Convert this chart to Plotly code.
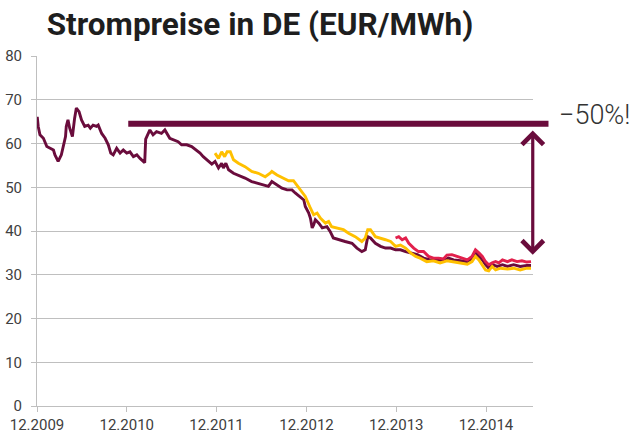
import plotly.graph_objects as go

# ---- data ----
maroon_dates = [
    "2009-12-02","2009-12-06","2009-12-13","2009-12-27","2010-01-10","2010-01-23","2010-02-06","2010-02-12",
    "2010-02-25","2010-03-10","2010-03-19","2010-03-27","2010-03-30","2010-04-06","2010-04-13","2010-04-24",
    "2010-05-03","2010-05-10","2010-05-21","2010-05-31","2010-06-13","2010-06-27","2010-07-06","2010-07-17",
    "2010-07-31","2010-08-07","2010-08-21","2010-09-04","2010-09-17","2010-09-27","2010-10-07","2010-10-21",
    "2010-11-04","2010-11-17","2010-12-01","2010-12-14","2010-12-28","2011-01-11","2011-01-24","2011-02-05",
    "2011-02-12","2011-02-16","2011-03-05","2011-03-18","2011-04-01","2011-04-21","2011-05-05","2011-05-25",
    "2011-06-08","2011-06-28","2011-07-12","2011-08-02","2011-08-22","2011-09-12","2011-09-25","2011-10-08",
    "2011-10-22","2011-10-29","2011-11-12","2011-11-25","2011-12-09","2011-12-22","2011-12-29","2012-01-08",
    "2012-01-19","2012-02-08","2012-02-28","2012-03-26","2012-04-22","2012-05-19","2012-06-09","2012-06-29",
    "2012-07-13","2012-08-03","2012-08-23","2012-09-13","2012-10-03","2012-10-16","2012-11-06","2012-11-20",
    "2012-11-26","2012-12-10","2012-12-17","2012-12-24","2012-12-30","2013-01-06","2013-01-20","2013-02-03",
    "2013-02-22","2013-03-07","2013-03-20","2013-04-10","2013-05-07","2013-06-04","2013-06-24","2013-07-14",
    "2013-07-28","2013-08-07","2013-08-18","2013-09-07","2013-09-28","2013-10-18","2013-11-08","2013-11-28",
    "2013-12-18","2014-01-08","2014-01-28","2014-02-25","2014-03-22","2014-04-18","2014-05-15","2014-06-11",
    "2014-07-01","2014-07-22","2014-08-19","2014-09-16","2014-10-05","2014-10-19","2014-11-02","2014-11-16",
    "2014-11-29","2014-12-12","2014-12-26","2015-01-16","2015-02-06","2015-02-26","2015-03-23","2015-04-19",
    "2015-05-16","2015-06-02",
]
maroon_values = [
    66.1, 63.9, 62.0, 61.2, 59.3, 58.9, 58.5, 57.4,
    55.9, 57.4, 59.7, 61.6, 63.9, 65.4, 63.5, 61.6,
    65.8, 68.1, 67.3, 65.4, 63.9, 64.2, 63.5, 64.2,
    63.9, 64.2, 62.3, 61.2, 59.7, 57.8, 57.4, 58.9,
    57.8, 58.5, 57.8, 58.1, 57.0, 57.4, 56.6, 55.9,
    55.6, 61.0, 63.1, 62.0, 62.7, 62.3, 63.1, 61.2,
    60.8, 60.4, 59.7, 59.7, 59.3, 58.5, 57.8, 57.0,
    56.3, 55.9, 55.3, 55.9, 54.4, 55.5, 54.4, 55.5,
    54.0, 53.2, 52.8, 52.1, 51.3, 50.9, 50.5, 50.2,
    51.3, 50.5, 49.8, 49.4, 49.4, 48.7, 47.8, 47.1,
    45.6, 44.1, 42.9, 40.7, 41.4, 42.6, 41.8, 40.7,
    41.0, 39.9, 38.4, 38.0, 37.6, 37.2, 36.1, 35.3,
    35.7, 38.7, 38.4, 37.2, 36.5, 36.1, 36.1, 35.7,
    35.7, 35.3, 35.0, 34.6, 33.8, 33.4, 33.4, 33.2,
    33.8, 33.4, 33.2, 33.0, 33.8, 35.0, 34.2, 33.4,
    32.3, 31.5, 32.3, 31.9, 32.3, 31.9, 32.3, 31.9,
    32.1, 32.1,
]

yellow_dates = [
    "2011-11-25","2011-12-09","2011-12-22","2012-01-03","2012-01-13","2012-01-26","2012-02-08","2012-02-28",
    "2012-03-26","2012-04-22","2012-05-19","2012-06-16","2012-07-06","2012-07-13","2012-08-03","2012-08-29",
    "2012-09-19","2012-10-09","2012-10-23","2012-11-06","2012-11-26","2012-12-17","2012-12-30","2013-01-13",
    "2013-01-27","2013-02-16","2013-03-01","2013-03-13","2013-04-03","2013-04-30","2013-05-21","2013-06-17",
    "2013-07-14","2013-07-28","2013-08-07","2013-08-18","2013-09-07","2013-09-28","2013-10-18","2013-11-08",
    "2013-11-28","2013-12-18","2014-01-08","2014-01-28","2014-02-18","2014-03-08","2014-04-04","2014-05-01",
    "2014-05-28","2014-06-25","2014-07-22","2014-08-19","2014-09-16","2014-10-05","2014-10-19","2014-11-02",
    "2014-11-16","2014-11-29","2014-12-12","2014-12-26","2015-01-09","2015-01-29","2015-02-26","2015-03-23",
    "2015-04-19","2015-05-16","2015-06-02",
]
yellow_values = [
    57.8, 56.6, 58.1, 57.0, 58.1, 58.1, 56.3, 55.5,
    54.7, 53.6, 53.2, 52.4, 53.2, 53.6, 52.8, 52.1,
    51.5, 51.5, 50.5, 49.4, 47.9, 45.2, 43.7, 44.1,
    42.9, 41.8, 42.2, 41.0, 40.7, 40.3, 39.5, 38.7,
    37.6, 38.4, 40.3, 40.3, 38.7, 38.4, 38.0, 37.6,
    36.5, 36.8, 36.1, 35.0, 34.2, 33.8, 33.0, 33.2,
    32.7, 33.2, 32.9, 32.7, 32.4, 33.0, 34.2, 33.4,
    32.3, 31.1, 30.9, 31.9, 31.1, 31.5, 31.3, 31.5,
    31.1, 31.5, 31.5,
]

red_dates = [
    "2013-11-28","2013-12-11","2013-12-25","2014-01-08","2014-01-21","2014-02-10","2014-03-01","2014-03-22",
    "2014-04-11","2014-05-01","2014-05-22","2014-06-11","2014-06-25","2014-07-15","2014-08-05","2014-08-26",
    "2014-09-16","2014-10-05","2014-10-19","2014-11-02","2014-11-16","2014-11-29","2014-12-12","2014-12-26",
    "2015-01-09","2015-01-22","2015-02-06","2015-02-26","2015-03-16","2015-04-06","2015-04-26","2015-05-16",
    "2015-06-02",
]
red_values = [
    38.4, 38.7, 38.0, 38.4, 37.2, 36.1, 35.3, 35.3,
    34.2, 33.8, 33.8, 33.6, 34.5, 34.6, 34.2, 33.8,
    33.4, 34.2, 35.7, 35.0, 34.2, 33.0, 32.3, 32.7,
    33.0, 32.7, 33.4, 33.0, 33.4, 33.0, 33.2, 32.9,
    33.0,
]

tick_dates = ["2009-12-01", "2010-12-01", "2011-12-01", "2012-12-01", "2013-12-01", "2014-12-01"]
tick_labels = ["12.2009", "12.2010", "12.2011", "12.2012", "12.2013", "12.2014"]
y_ticks = [0, 10, 20, 30, 40, 50, 60, 70, 80]
x_range = ["2009-12-01", "2015-06-10"]

level_start = 64.5          # price level marked end 2010
level_end = 34.6            # price level reached in 2015
level_line_from = "2010-12-01"
level_line_to = "2015-08-12"
arrow_date = "2015-06-09"
arrow_top = 63.3

title_text = "Strompreise in DE (EUR/MWh)"
note_text = "\u221250%!"

# ---- styling ----
MAROON = "#6A0C3C"
YELLOW = "#FFC000"
RED = "#E2204C"
GRID = "#BFBFBF"
TICKFONT = dict(family="Roboto", size=15, color="#404040")

fig = go.Figure()
fig.add_trace(go.Scatter(x=maroon_dates, y=maroon_values, mode="lines",
                         line=dict(color=MAROON, width=2.9), showlegend=False))
fig.add_trace(go.Scatter(x=yellow_dates, y=yellow_values, mode="lines",
                         line=dict(color=YELLOW, width=2.9), showlegend=False))
fig.add_trace(go.Scatter(x=red_dates, y=red_values, mode="lines",
                         line=dict(color=RED, width=2.9), showlegend=False))

# thick horizontal reference line
fig.add_annotation(x=level_line_to, y=level_start, ax=level_line_from, ay=level_start,
                   xref="x", yref="y", axref="x", ayref="y", text="",
                   showarrow=True, arrowhead=0, arrowwidth=6, arrowcolor=MAROON,
                   standoff=0, startstandoff=0)
# double-headed arrow
fig.add_annotation(x=arrow_date, y=level_end, ax=arrow_date, ay=arrow_top,
                   xref="x", yref="y", axref="x", ayref="y", text="",
                   showarrow=True, arrowhead=4, startarrowhead=4, arrowside="end+start",
                   arrowsize=1.3, startarrowsize=1.3, arrowwidth=3.2, arrowcolor=MAROON)
# note
fig.add_annotation(x=1.048, y=0.832, xref="paper", yref="paper", xanchor="left", yanchor="middle",
                   text=note_text, showarrow=False,
                   font=dict(family="Roboto", size=27, color="#333333", weight=300))

fig.update_layout(
    width=638, height=439,
    margin=dict(l=37, r=105, t=56, b=33, autoexpand=False),
    paper_bgcolor="white", plot_bgcolor="white",
    title=dict(text=title_text, x=0.4075, y=0.9444, xref="container", yref="container",
               xanchor="center", yanchor="middle", automargin=False,
               font=dict(family="Roboto", size=31.5, color="#1E1E1E", weight=700)),
    showlegend=False,
)
fig.update_xaxes(type="date", range=x_range, automargin=False,
                 tickmode="array", tickvals=tick_dates, ticktext=tick_labels,
                 showgrid=False, showline=True, linecolor=GRID, linewidth=1,
                 ticks="outside", ticklen=5, tickcolor=GRID, tickfont=TICKFONT,
                 zeroline=False)
fig.update_yaxes(range=[0, 80], tickmode="array", tickvals=y_ticks, automargin=False,
                 showgrid=True, gridcolor=GRID, gridwidth=1,
                 showline=True, linecolor=GRID, linewidth=1,
                 ticks="outside", ticklen=5, tickcolor=GRID, tickfont=TICKFONT,
                 ticklabelstandoff=6, zeroline=False)

# let the figure fill the page from its top-left corner (no default body margin)
fig.write_html("out.html", config={"displayModeBar": False, "staticPlot": True},
               post_script="document.body.style.margin='0';")
